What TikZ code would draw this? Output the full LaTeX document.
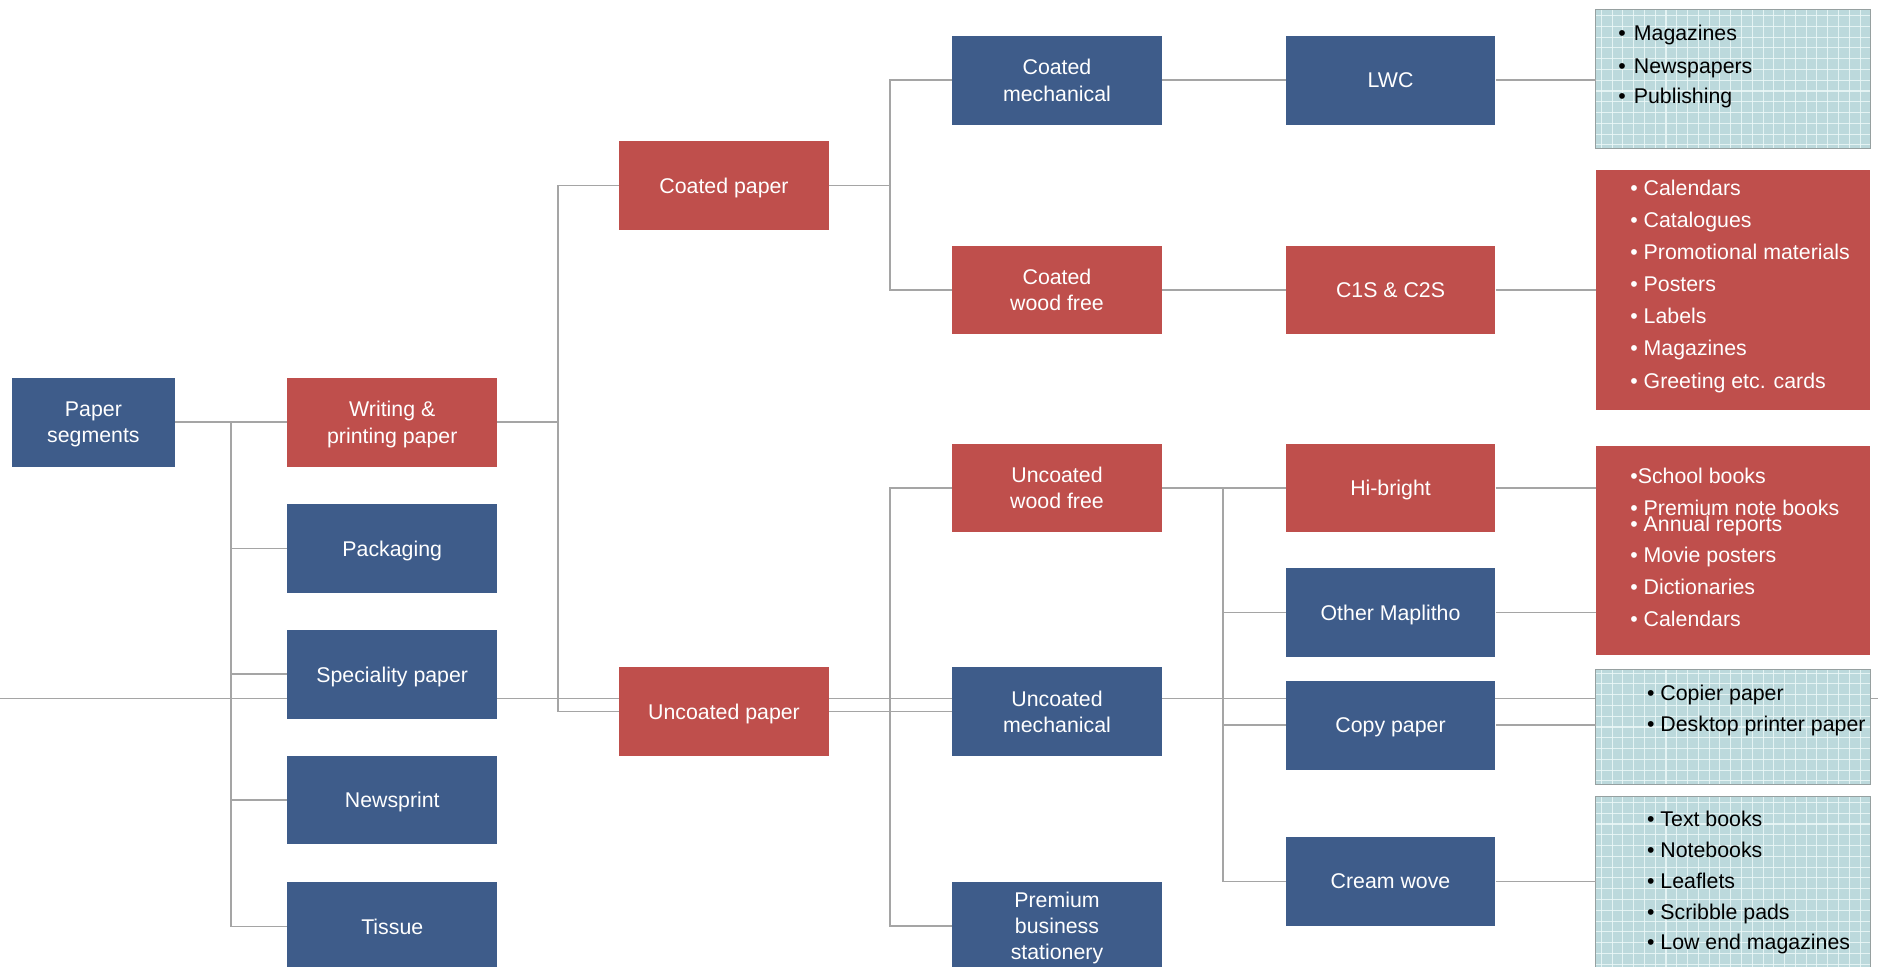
\documentclass[tikz,border=0pt]{standalone}
\usepackage{fontspec}
\setmainfont{Liberation Sans}
\definecolor{nblue}{RGB}{62,92,138}
\definecolor{nred}{RGB}{191,79,76}
\definecolor{lgray}{RGB}{165,165,165}
\definecolor{gridbg}{RGB}{188,217,220}
\definecolor{gridln}{RGB}{236,248,248}
\definecolor{bordergray}{RGB}{150,160,160}
\tikzset{
  box/.style={draw=none, minimum width=175pt, minimum height=74pt, inner sep=2pt,
    align=center, text=white, text depth=-5pt, font=\fontsize{17.8}{22}\selectfont},
  bluebox/.style={box, fill=nblue},
  redbox/.style={box, fill=nred},
  conn/.style={draw=lgray, line width=1.4pt},
  listred/.style={fill=nred, minimum width=229pt, inner sep=0},
  listgrid/.style={fill=gridbg, minimum width=229pt, inner sep=0},
  itemw/.style={anchor=base west, inner sep=0, text=white, font=\fontsize{17.8}{20}\selectfont},
  itemk/.style={anchor=base west, inner sep=0, text=black, font=\fontsize{17.8}{20}\selectfont},
  gline/.style={draw=gridln, line width=0.9pt, opacity=0.85}
}
\newcommand{\gridlines}[1]{%
  \begin{scope}
    \clip (#1.north west) rectangle (#1.south east);
    \foreach \gx in {1337,1346,...,1565} {\draw[gline] (\gx,0) -- (\gx,810);}
    \foreach \gy in {4,13,...,812} {\draw[gline] (1330,\gy) -- (1566,\gy);}
  \end{scope}
  \draw[bordergray, line width=1pt] (#1.north west) rectangle (#1.south east);
}
\begin{document}
\begin{tikzpicture}[x=1pt,y=-1pt]
\useasboundingbox (0,0) rectangle (1568,807);
\clip (0,0) rectangle (1568,807);
\fill[white] (0,0) rectangle (1568,807);

% stray horizontal line across the figure
\coordinate (sl) at (0,583);
\coordinate (sr) at (1568,583);
\draw[conn, line width=1.1pt] (sl) -- (sr);

% column 1
\node[bluebox, minimum width=136pt] (ps) at (78,352.5) {Paper\\segments};
% column 2
\node[redbox] (wp) at (327.5,352.5) {Writing \&\\printing paper};
\node[bluebox] (pk) at (327.5,458) {Packaging};
\node[bluebox] (sp) at (327.5,563) {Speciality paper};
\node[bluebox] (nw) at (327.5,668) {Newsprint};
\node[bluebox] (ts) at (327.5,773.5) {Tissue};
% column 3
\node[redbox] (cp) at (604.5,155) {Coated paper};
\node[redbox] (up) at (604.5,594) {Uncoated paper};
% column 4
\node[bluebox] (cm) at (882.5,67) {Coated\\mechanical};
\node[redbox] (cwf) at (882.5,242) {Coated\\wood free};
\node[redbox] (uwf) at (882.5,407.5) {Uncoated\\wood free};
\node[bluebox] (um) at (882.5,594) {Uncoated\\mechanical};
\node[bluebox] (pbs) at (882.5,773) {Premium\\business\\stationery};
% column 5
\node[bluebox] (lwc) at (1161,67) {LWC};
\node[redbox] (c1s) at (1161,242) {C1S \& C2S};
\node[redbox] (hb) at (1161,407.5) {Hi-bright};
\node[bluebox] (om) at (1161,511.5) {Other Maplitho};
\node[bluebox] (cpy) at (1161,605.5) {Copy paper};
\node[bluebox] (cw) at (1161,736) {Cream wove};

% column 6 : lists
\node[listgrid, minimum height=116pt] (L1) at (1447,66) {};
\gridlines{L1}
\node[listred, minimum height=200pt] (L2) at (1447,242) {};
\node[listred, minimum height=175pt] (L3) at (1447,459.5) {};
\node[listgrid, minimum height=96pt] (L4) at (1447,607) {};
\gridlines{L4}
\node[listgrid, minimum height=147pt] (L5) at (1447,738.5) {};
\gridlines{L5}

\node[itemk] (l1a) at (1351,34) {\makebox[13pt][l]{•}Magazines};
\node[itemk] (l1b) at (1351,61) {\makebox[13pt][l]{•}Newspapers};
\node[itemk] (l1c) at (1351,86) {\makebox[13pt][l]{•}Publishing};

\node[itemw] (l2a) at (1361,163) {• Calendars};
\node[itemw] (l2b) at (1361,190) {• Catalogues};
\node[itemw] (l2c) at (1361,217) {• Promotional materials};
\node[itemw] (l2d) at (1361,243) {• Posters};
\node[itemw] (l2e) at (1361,270) {• Labels};
\node[itemw] (l2f) at (1361,297) {• Magazines};
\node[itemw] (l2g) at (1361,324) {• Greeting etc. cards};

\node[itemw] (l3a) at (1361,403.5) {•School books};
\node[itemw] (l3b) at (1361,430) {• Premium note books};
\node[itemw] (l3c) at (1361,443.5) {• Annual reports};
\node[itemw] (l3d) at (1361,470) {• Movie posters};
\node[itemw] (l3e) at (1361,496) {• Dictionaries};
\node[itemw] (l3f) at (1361,523) {• Calendars};

\node[itemk] (l4a) at (1375,585) {• Copier paper};
\node[itemk] (l4b) at (1375,611) {• Desktop printer paper};

\node[itemk] (l5a) at (1375,690) {• Text books};
\node[itemk] (l5b) at (1375,716) {• Notebooks};
\node[itemk] (l5c) at (1375,742) {• Leaflets};
\node[itemk] (l5d) at (1375,768) {• Scribble pads};
\node[itemk] (l5e) at (1375,793) {• Low end magazines};

% connectors: level 1
\coordinate (j1) at (193,352.5);
\draw[conn] (ps.east) -- (wp.west);
\draw[conn] (j1) -- (j1 |- ts.west) -- (ts.west);
\draw[conn] (j1 |- pk.west) -- (pk.west);
\draw[conn] (j1 |- sp.west) -- (sp.west);
\draw[conn] (j1 |- nw.west) -- (nw.west);
% level 2
\coordinate (j2) at (466,352.5);
\draw[conn] (wp.east) -- (j2);
\draw[conn] (cp.west) -- (cp.west -| j2) -- (up.west -| j2) -- (up.west);
% level 3
\coordinate (j3) at (743,155);
\draw[conn] (cp.east) -- (j3);
\draw[conn] (cm.west) -- (cm.west -| j3) -- (cwf.west -| j3) -- (cwf.west);
\coordinate (j4) at (743,594);
\draw[conn] (up.east) -- (um.west);
\draw[conn] (uwf.west) -- (uwf.west -| j4) -- (pbs.west -| j4) -- (pbs.west);
% level 4
\draw[conn] (cm.east) -- (lwc.west);
\draw[conn] (cwf.east) -- (c1s.west);
\coordinate (j5) at (1021,407.5);
\draw[conn] (uwf.east) -- (hb.west);
\draw[conn] (j5) -- (j5 |- cw.west) -- (cw.west);
\draw[conn] (j5 |- om.west) -- (om.west);
\draw[conn] (j5 |- cpy.west) -- (cpy.west);
% level 5
\draw[conn] (lwc.east) -- (lwc.east -| L1.west);
\draw[conn] (c1s.east) -- (c1s.east -| L2.west);
\draw[conn] (hb.east) -- (hb.east -| L3.west);
\draw[conn] (om.east) -- (om.east -| L3.west);
\draw[conn] (cpy.east) -- (cpy.east -| L4.west);
\draw[conn] (cw.east) -- (cw.east -| L5.west);
\end{tikzpicture}
\end{document}
